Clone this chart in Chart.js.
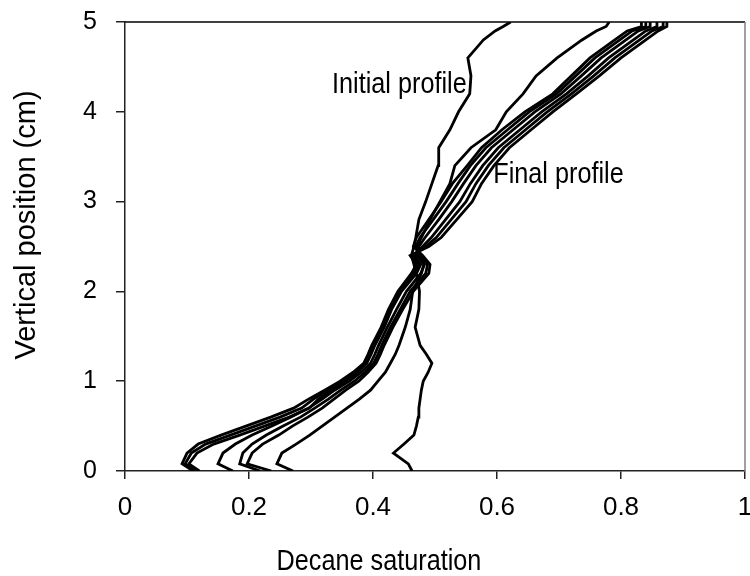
<!DOCTYPE html>
<html>
<head>
<meta charset="utf-8">
<script src="https://cdn.jsdelivr.net/npm/chart.js@4.4.1/dist/chart.umd.min.js"></script>
<style>
  html, body { margin: 0; padding: 0; background: #fff; }
</style>
</head>
<body>
<canvas id="myChart" width="750" height="576"></canvas>
<script>
// vertical positions (cm) where each saturation profile was sampled
const positions = [0, 0.08, 0.2, 0.3, 0.4, 0.5, 0.6, 0.7, 0.8, 0.9, 1.0, 1.1, 1.2, 1.3, 1.4, 1.6, 1.8, 2.0, 2.2, 2.3,
    2.4, 2.5, 2.6, 2.8, 3.0, 3.2, 3.4, 3.6, 3.8, 4.0, 4.2, 4.4, 4.6, 4.8, 4.9, 4.95, 5.0];

// decane saturation for each profile, same order as positions
const initialProfile = [0.463, 0.457, 0.433, 0.45, 0.466, 0.47, 0.473, 0.474, 0.476, 0.478, 0.481, 0.489, 0.495, 0.486,
    0.476, 0.468, 0.474, 0.475, 0.47, 0.466, 0.462, 0.466, 0.469, 0.474, 0.485, 0.495, 0.505, 0.506, 0.524, 0.538,
    0.556, 0.558, 0.553, 0.578, 0.597, 0.61, 0.622];
const profile2 = [0.271, 0.245, 0.253, 0.276, 0.298, 0.318, 0.338, 0.358, 0.378, 0.396, 0.408, 0.42, 0.428, 0.436,
    0.442, 0.452, 0.46, 0.464, 0.478, 0.482, 0.474, 0.471, 0.478, 0.492, 0.508, 0.524, 0.532, 0.558, 0.598, 0.615,
    0.642, 0.663, 0.697, 0.737, 0.76, 0.776, 0.781];
const profile3 = [0.236, 0.197, 0.205, 0.222, 0.248, 0.27, 0.295, 0.318, 0.337, 0.356, 0.377, 0.392, 0.405, 0.412,
    0.418, 0.432, 0.448, 0.465, 0.49, 0.492, 0.48, 0.465, 0.47, 0.49, 0.51, 0.528, 0.552, 0.575, 0.608, 0.645,
    0.69, 0.72, 0.75, 0.79, 0.81, 0.833, 0.833];
const profile4 = [0.218, 0.185, 0.19, 0.205, 0.228, 0.255, 0.283, 0.306, 0.328, 0.348, 0.37, 0.387, 0.401, 0.408,
    0.414, 0.428, 0.444, 0.46, 0.485, 0.488, 0.476, 0.469, 0.476, 0.497, 0.518, 0.537, 0.557, 0.582, 0.617, 0.652,
    0.696, 0.727, 0.758, 0.798, 0.818, 0.84, 0.84];
const profile5 = [0.174, 0.15, 0.158, 0.178, 0.205, 0.237, 0.267, 0.296, 0.318, 0.338, 0.362, 0.381, 0.396, 0.403,
    0.409, 0.423, 0.438, 0.454, 0.477, 0.483, 0.47, 0.474, 0.484, 0.506, 0.527, 0.546, 0.566, 0.591, 0.626, 0.661,
    0.703, 0.736, 0.768, 0.808, 0.828, 0.847, 0.847];
const profile6 = [0.12, 0.103, 0.116, 0.143, 0.185, 0.225, 0.265, 0.297, 0.312, 0.333, 0.356, 0.375, 0.39, 0.397,
    0.403, 0.418, 0.43, 0.446, 0.47, 0.477, 0.466, 0.48, 0.494, 0.517, 0.54, 0.557, 0.577, 0.602, 0.637, 0.672,
    0.712, 0.747, 0.78, 0.82, 0.84, 0.858, 0.858];
const profile7 = [0.115, 0.097, 0.107, 0.13, 0.17, 0.21, 0.25, 0.285, 0.304, 0.328, 0.352, 0.371, 0.388, 0.395,
    0.4, 0.415, 0.428, 0.443, 0.466, 0.474, 0.463, 0.485, 0.502, 0.526, 0.55, 0.566, 0.586, 0.611, 0.646, 0.681,
    0.72, 0.756, 0.79, 0.83, 0.85, 0.868, 0.868];
const profile8 = [0.11, 0.092, 0.1, 0.118, 0.155, 0.195, 0.235, 0.272, 0.296, 0.322, 0.347, 0.368, 0.385, 0.392,
    0.398, 0.413, 0.425, 0.44, 0.462, 0.47, 0.46, 0.49, 0.51, 0.535, 0.56, 0.575, 0.595, 0.62, 0.655, 0.69,
    0.728, 0.765, 0.8, 0.84, 0.86, 0.874, 0.874];

const profiles = [initialProfile, profile2, profile3, profile4, profile5, profile6, profile7, profile8];

const xTicks = [0, 0.2, 0.4, 0.6, 0.8, 1];
const yTicks = [0, 1, 2, 3, 4, 5];

const FONT = "'Liberation Sans', Arial, sans-serif";

const datasets = profiles.map((p, i) => ({
    label: 'profile ' + (i + 1),
    data: p.map((s, k) => ({ x: s, y: positions[k] })),
    showLine: true,
    borderColor: '#000',
    borderWidth: 2.8,
    pointRadius: 0,
    tension: 0,
    fill: false
}));

// text is a bit narrower than the regular face, so squeeze it sideways
function drawText(ctx, text, x, y, align) {
    ctx.save();
    ctx.translate(x, y);
    ctx.scale(0.87, 1);
    ctx.textAlign = align;
    ctx.fillText(text, 0, 0);
    ctx.restore();
}

// axis titles, labels on the curves and the top/right frame
const decorations = {
    id: 'decorations',
    beforeDatasetsDraw(chart) {
        const { ctx, chartArea: a } = chart;
        ctx.save();
        ctx.lineWidth = 1.5;
        ctx.strokeStyle = '#000';
        ctx.beginPath();
        ctx.moveTo(a.left, a.top);
        ctx.lineTo(a.right, a.top);
        ctx.stroke();
        ctx.strokeStyle = '#808080';
        ctx.beginPath();
        ctx.moveTo(a.right, a.top);
        ctx.lineTo(a.right, a.bottom);
        ctx.stroke();
        ctx.restore();
    },
    afterDraw(chart) {
        const { ctx, scales } = chart;
        ctx.save();
        ctx.fillStyle = '#000';
        ctx.font = '29px ' + FONT;
        ctx.textBaseline = 'alphabetic';
        drawText(ctx, 'Initial profile', scales.x.getPixelForValue(0.334), scales.y.getPixelForValue(4.21), 'left');
        drawText(ctx, 'Final profile', scales.x.getPixelForValue(0.594), scales.y.getPixelForValue(3.21), 'left');
        drawText(ctx, 'Decane saturation', 379, 570, 'center');

        ctx.translate(35, 225);
        ctx.rotate(-Math.PI / 2);
        ctx.textAlign = 'center';
        ctx.fillText('Vertical position (cm)', 0, 0);
        ctx.restore();
    }
};

const config = {
    type: 'scatter',
    data: { datasets: datasets },
    options: {
        responsive: false,
        animation: false,
        devicePixelRatio: 1,
        layout: { padding: { left: 0, right: 5, top: 22, bottom: 0 } },
        plugins: { legend: { display: false }, tooltip: { enabled: false } },
        scales: {
            x: {
                type: 'linear',
                min: 0,
                max: 1,
                afterBuildTicks: (scale) => { scale.ticks = xTicks.map(v => ({ value: v })); },
                afterFit: (scale) => { scale.height = 105; scale.paddingLeft = 0; scale.paddingRight = 0; },
                ticks: {
                    color: '#000',
                    font: { family: FONT, size: 26 },
                    padding: 13,
                    maxRotation: 0,
                    callback: (v) => String(v)
                },
                grid: { drawOnChartArea: false, drawTicks: true, tickLength: 8, color: '#222', lineWidth: 1.5 },
                border: { display: true, color: '#222', width: 1.5 }
            },
            y: {
                type: 'linear',
                min: 0,
                max: 5,
                afterBuildTicks: (scale) => { scale.ticks = yTicks.map(v => ({ value: v })); },
                afterFit: (scale) => { scale.width = 125; scale.paddingTop = 0; scale.paddingBottom = 0; },
                ticks: {
                    color: '#000',
                    font: { family: FONT, size: 25 },
                    padding: 19,
                    callback: (v) => String(v)
                },
                grid: { drawOnChartArea: false, drawTicks: true, tickLength: 9, color: '#222', lineWidth: 1.5 },
                border: { display: true, color: '#222', width: 1.5 }
            }
        }
    },
    plugins: [decorations]
};

let ctx = document.getElementById('myChart').getContext('2d');
let myChart = new Chart(ctx, config);
</script>
</body>
</html>
